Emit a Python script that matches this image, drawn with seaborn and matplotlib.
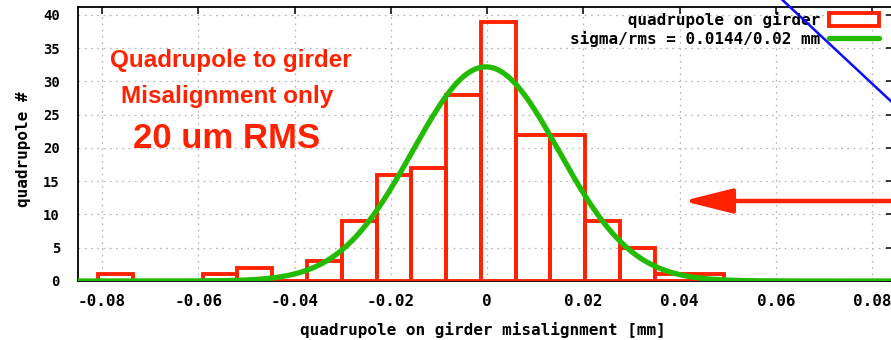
import numpy as np
import pandas as pd
import matplotlib
matplotlib.use("Agg")
import matplotlib.pyplot as plt
from matplotlib.patches import Rectangle
from matplotlib.lines import Line2D
import seaborn as sns

# Histogram of quadrupole-to-girder misalignment [mm]
bin_start = -0.0808
bin_width = 0.007226
counts = [1, 0, 0, 1, 2, 0, 3, 9, 16, 17, 28, 39, 22, 22, 9, 5, 1, 1]

# Gaussian fit parameters
fit_amp = 32.2
fit_mu = -0.0003
fit_sigma = 0.0152

x_ticks = [-0.08, -0.06, -0.04, -0.02, 0, 0.02, 0.04, 0.06, 0.08]
x_tick_labels = ["-0.08", "-0.06", "-0.04", "-0.02", "0", "0.02", "0.04", "0.06", "0.08"]
y_ticks = [0, 5, 10, 15, 20, 25, 30, 35, 40]

RED = "#ff2200"
GREEN = "#22bb00"

sns.set_style("white")
plt.rcParams["font.family"] = ["DejaVu Sans Mono", "DejaVu Sans"]
plt.rcParams.update({"text.color": "black", "axes.labelcolor": "black",
                     "xtick.color": "black", "ytick.color": "black"})

fig = plt.figure(figsize=(8.91, 3.40), dpi=100)
ax = fig.add_axes([78 / 891, 1 - 281 / 340, 815 / 891, 274 / 340])

n_bins = len(counts)
bin_end = bin_start + bin_width * n_bins
centers = bin_start + bin_width * (np.arange(n_bins) + 0.5)
hist_df = pd.DataFrame({"x": centers, "n": counts})

sns.histplot(data=hist_df, x="x", weights="n", bins=n_bins,
             binrange=(bin_start, bin_end), fill=False,
             element="bars", color=RED, linewidth=2.8, ax=ax, zorder=3)

xlim = (-0.085, 0.0843)
xs = np.linspace(xlim[0], xlim[1], 600)
fit_df = pd.DataFrame({"x": xs,
                       "y": fit_amp * np.exp(-(xs - fit_mu) ** 2 / (2 * fit_sigma ** 2))})
sns.lineplot(data=fit_df, x="x", y="y", color=GREEN, linewidth=3.8, ax=ax, zorder=4)

ax.set_xlim(*xlim)
ax.set_ylim(0, 41.2)
ax.set_xticks(x_ticks)
ax.set_xticklabels(x_tick_labels)
ax.set_yticks(y_ticks)

ax.grid(True, color="#b8b8b8", linestyle=(0, (1.5, 3.5)), linewidth=0.9)
ax.set_axisbelow(True)
for s in ax.spines.values():
    s.set_color("black")
    s.set_linewidth(1.3)
    s.set_visible(True)

ax.tick_params(axis="both", direction="in", length=5, width=1.1,
               top=True, right=True, colors="black")
ax.tick_params(axis="x", pad=9, labelsize=11.5)
ax.tick_params(axis="y", pad=13, labelsize=10)
for lab in ax.get_xticklabels() + ax.get_yticklabels():
    lab.set_fontweight("bold")

ax.set_xlabel("quadrupole on girder misalignment [mm]", fontsize=11.5, fontweight="bold")
ax.set_ylabel("quadrupole #", fontsize=11.5, fontweight="bold")
ax.xaxis.set_label_coords(0.497, -0.15)
ax.yaxis.set_label_coords(-0.058, 0.48)

# Annotation text
ax.text(-0.0532, 33.2, "Quadrupole to girder", color=RED, fontsize=17.5,
        fontweight="bold", family="Liberation Sans", ha="center", va="center")
ax.text(-0.0540, 27.7, "Misalignment only", color=RED, fontsize=17.5,
        fontweight="bold", family="Liberation Sans", ha="center", va="center")
ax.text(-0.0541, 21.4, "20 um RMS", color=RED, fontsize=25,
        fontweight="bold", family="Liberation Sans", ha="center", va="center")

# Legend
h_hist = Rectangle((0, 0), 1, 1, facecolor="white", edgecolor=RED, linewidth=2.8)
h_fit = Line2D([], [], color=GREEN, linewidth=3.8)
leg = ax.legend([h_hist, h_fit],
                ["      quadrupole on girder", "sigma/rms = 0.0144/0.02 mm"],
                loc="upper right", bbox_to_anchor=(879 / 891, 1 - 12 / 340),
                bbox_transform=fig.transFigure, frameon=False, markerfirst=False,
                handlelength=3.1, handleheight=0.9, handletextpad=0.55,
                labelspacing=0.2, borderpad=0, borderaxespad=0,
                prop={"family": "DejaVu Sans Mono", "weight": "bold", "size": 11.5})
for t in leg.get_texts():
    t.set_color("black")

# Red arrow pointing left at the tail of the distribution
ax.annotate("", xy=(683 / 891, 1 - 201 / 340), xycoords="figure fraction",
            xytext=(1.02, 1 - 201 / 340), textcoords="figure fraction",
            arrowprops=dict(arrowstyle="-|>,head_length=3.0,head_width=0.75",
                            color=RED, lw=3.2, shrinkA=0, shrinkB=0,
                            mutation_scale=10))

# Blue diagonal line in the top-right corner
fig.add_artist(Line2D([775 / 891, 895 / 891], [1 + 7 / 340, 1 - 105 / 340],
                      transform=fig.transFigure, color="#0a0aff", linewidth=1.8,
                      clip_on=False, zorder=10))

fig.savefig("out.png", dpi=100)
